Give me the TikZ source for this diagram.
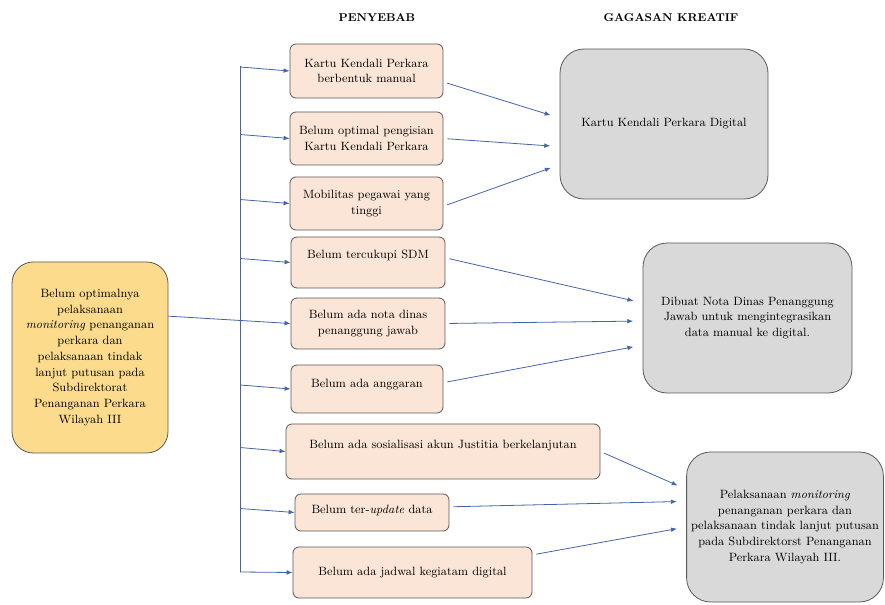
\documentclass[tikz,border=0pt]{standalone}
\usetikzlibrary{arrows.meta,calc,positioning}
\definecolor{causefill}{RGB}{251,229,214}
\definecolor{ideafill}{RGB}{217,217,217}
\definecolor{problemfill}{RGB}{252,220,140}
\definecolor{linkblue}{RGB}{68,100,168}

\begin{document}
\begin{tikzpicture}[
		x=0.75pt,
		y=-0.75pt,
		box size/.style 2 args={
			minimum width=#1*0.75pt,
			minimum height=#2*0.75pt,
		},
		cause/.style={
			draw=black!65,
			fill=causefill,
			rounded corners=4.5pt,
			line width=0.6pt,
			align=center,
			inner sep=2pt,
		},
		idea/.style={
			draw=black!65,
			fill=ideafill,
			rounded corners=18pt,
			line width=0.6pt,
			align=center,
		},
		problem/.style={
			draw=black!65,
			fill=problemfill,
			rounded corners=16pt,
			line width=0.6pt,
			align=center,
		},
		header/.style={
			font=\fontsize{8.5}{10}\selectfont\bfseries,
		},
		link/.style={
			draw=linkblue,
			line width=0.6pt,
			-{Latex[length=4.5pt,width=3.5pt]},
		},
		every node/.style={
			font=\fontsize{9}{11.8}\selectfont,
		},
	]
		\useasboundingbox (0,0) rectangle (885,605);

		\node[header] (hcause) at (377,18) {PENYEBAB};
		\node[header] (hidea) at (671,18) {GAGASAN KREATIF};

		\node[problem, box size={156}{191}] (prob) at (90,357.5) {Belum optimalnya\\pelaksanaan\\\textit{monitoring} penanganan\\perkara dan\\pelaksanaan tindak\\lanjut putusan pada\\Subdirektorat\\Penanganan Perkara\\Wilayah III};

		\node[cause, box size={153}{54}] (b1) at (366.5,71) {Kartu Kendali Perkara\\berbentuk manual};
		\node[cause, box size={153}{53}] (b2) at (366.5,138.5) {Belum optimal pengisian\\Kartu Kendali Perkara};
		\node[cause, box size={153}{53}] (b3) at (366.5,203.5) {Mobilitas pegawai yang\\tinggi};
		\node[cause, box size={154}{51}, text depth=13pt] (b4) at (368,262.5) {Belum tercukupi SDM};
		\node[cause, box size={154}{51}] (b5) at (368,323.5) {Belum ada nota dinas\\penanggung jawab};
		\node[cause, box size={152}{48}, text depth=8pt] (b6) at (367,389) {Belum ada anggaran};
		\node[cause, box size={314}{55}, text depth=10pt] (b7) at (443,451.5) {Belum ada sosialisasi akun Justitia berkelanjutan};
		\node[cause, box size={154}{37}, text depth=5pt] (b8) at (372,512.5) {Belum ter-\textit{update} data};
		\node[cause, box size={239}{51}] (b9) at (412.5,572.5) {Belum ada jadwal kegiatam digital};

		\node[idea, box size={208}{150}] (r1) at (664,124) {Kartu Kendali Perkara Digital};
		\node[idea, box size={209}{150}] (r2) at (747.5,318) {Dibuat Nota Dinas Penanggung\\Jawab untuk mengintegrasikan\\data manual ke digital.};
		\node[idea, box size={196}{150}] (r3) at (785,527) {Pelaksanaan \textit{monitoring}\\penanganan perkara dan\\pelaksanaan tindak lanjut putusan\\pada Subdirektorst Penanganan\\Perkara Wilayah III.};

		\coordinate (ttop) at (240,66);
		\coordinate (tbot) at (240,572);
		\draw[linkblue, line width=0.6pt] (ttop) -- (tbot);
		\foreach \b in {b1,b2,b3,b4,b6,b7,b8}
			\draw[link] ($(ttop |- \b.west)+(0,-4)$) -- (\b.west);
		\draw[link] (tbot) -- (b9.west);
		\draw[link] ([yshift=31pt]prob.east) -- (b5.west);

		\foreach \s/\fs/\t/\ft in {b1/0.7/r1/0.46, b2/0.5/r1/0.65, b3/0.55/r1/0.77, b4/0.41/r2/0.40, b5/0.5/r2/0.52, b6/0.37/r2/0.68, b7/0.5/r3/0.25, b8/0.35/r3/0.33, b9/0.16/r3/0.5}
			\draw[link, shorten <=3pt, shorten >=7pt] ($(\s.north east)!\fs!(\s.south east)$) -- ($(\t.north west)!\ft!(\t.south west)$);
	\end{tikzpicture}
\end{document}
